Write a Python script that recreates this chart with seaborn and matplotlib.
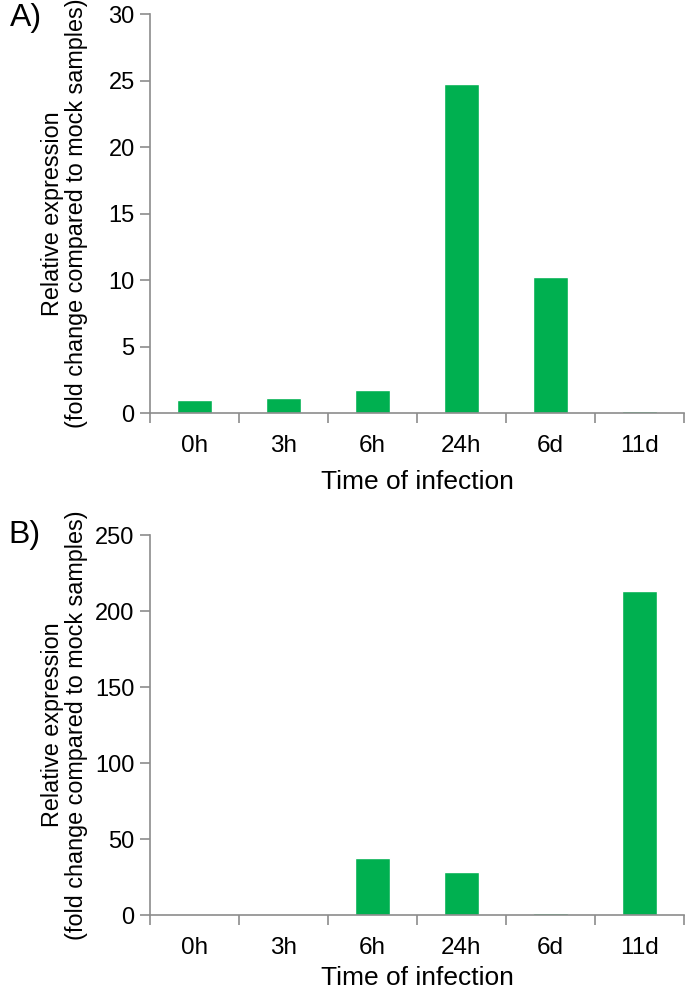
import matplotlib
matplotlib.use('Agg')
import matplotlib.pyplot as plt
import numpy as np
import pandas as pd
import seaborn as sns

# Data
times = ['0h', '3h', '6h', '24h', '6d', '11d']
expr_a = [1.0, 1.15, 1.7, 24.7, 10.2, 0.15]
expr_b = [0.8, 0.0, 37.5, 28.5, 1.5, 213.0]
yticks_a = [0, 5, 10, 15, 20, 25, 30]
yticks_b = [0, 50, 100, 150, 200, 250]

sns.set_theme(style='white')
plt.rcParams['font.family'] = ['Liberation Sans', 'DejaVu Sans']
plt.rcParams['text.color'] = 'black'
plt.rcParams['axes.labelcolor'] = 'black'

bar_color = '#00B050'
axis_color = '#8c8c8c'


def draw_panel(ax, values, yticks, xlabel_pad):
    df = pd.DataFrame({'time': times, 'value': values})
    sns.barplot(data=df, x='time', y='value', color=bar_color, width=0.4,
                saturation=1, ax=ax)
    ax.set_xlim(-0.5, len(times) - 0.5)
    ax.set_ylim(yticks[0], yticks[-1])
    ax.set_yticks(yticks)
    ax.set_yticklabels([str(t) for t in yticks], fontsize=17)
    ax.set_xticks(range(len(times)))
    ax.set_xticklabels(times, fontsize=17.5)
    ax.set_xticks(np.arange(-0.5, len(times)), minor=True)
    ax.tick_params(axis='x', which='both', bottom=True)
    ax.tick_params(axis='y', which='both', left=True)
    ax.tick_params(axis='x', which='major', length=0, pad=16, labelcolor='black')
    ax.tick_params(axis='x', which='minor', length=7, width=1.2,
                   color=axis_color, direction='out')
    ax.tick_params(axis='y', which='major', length=7, width=1.2,
                   color=axis_color, direction='out', pad=4, labelcolor='black')
    for side in ['top', 'right']:
        ax.spines[side].set_visible(False)
    for side in ['left', 'bottom']:
        ax.spines[side].set_color(axis_color)
        ax.spines[side].set_linewidth(1.2)
    ax.set_xlabel('Time of infection', fontsize=19, labelpad=xlabel_pad)
    ax.set_ylabel('Relative expression\n(fold change compared to mock samples)',
                  fontsize=16.8, linespacing=1.05)
    ax.yaxis.set_label_coords(-0.116, 0.5)
    ax.grid(False)


fig = plt.figure(figsize=(6.85, 9.96), dpi=100)
ax_a = fig.add_axes([150 / 685, 1 - 413 / 996, 534 / 685, 399 / 996])
ax_b = fig.add_axes([150 / 685, 1 - 915 / 996, 534 / 685, 380 / 996])

draw_panel(ax_a, expr_a, yticks_a, 9)
draw_panel(ax_b, expr_b, yticks_b, 5)

fig.text(10 / 685, 1 - 18 / 996, 'A)', fontsize=23, va='center', ha='left')
fig.text(8 / 685, 1 - 535 / 996, 'B)', fontsize=23, va='center', ha='left')

fig.savefig('out.png', dpi=100)
